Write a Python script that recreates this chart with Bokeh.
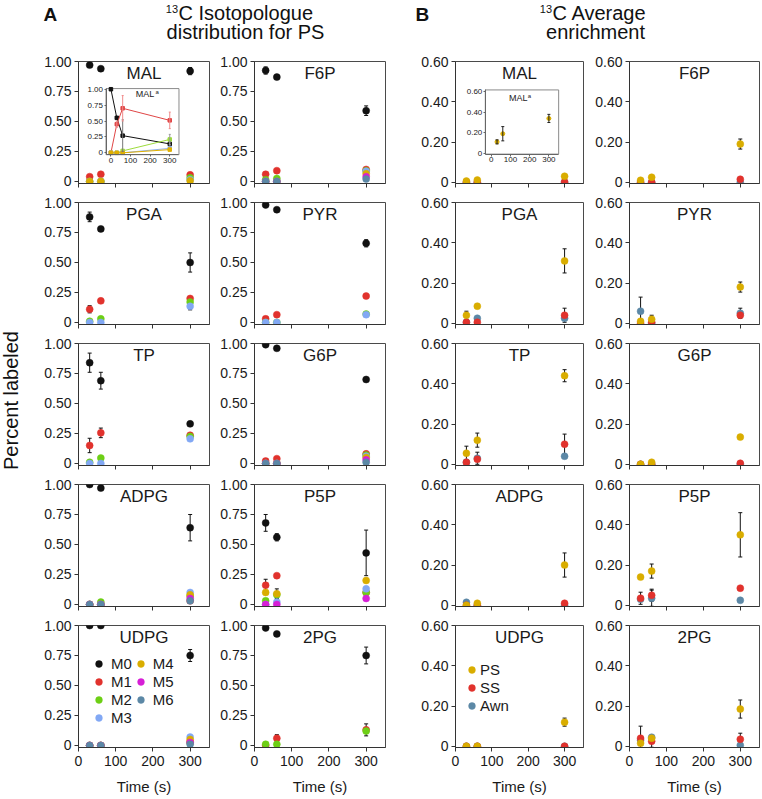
import math
from bokeh.plotting import figure
from bokeh.layouts import column, row
from bokeh.models import (ColumnDataSource, Range1d, LinearAxis, FixedTicker, Whisker, TeeHead,
                          Legend, LegendItem, CustomJSTickFormatter)
from bokeh.core.properties import value
from bokeh.embed import file_html
from bokeh.resources import INLINE

FONT = "Liberation Sans"

# ---------------- data ----------------
TIMES = [30, 60, 300]
ISO_NAMES = ["M0", "M1", "M2", "M3", "M4", "M5", "M6"]
ISO_COLORS = {"M0": "#111111", "M1": "#e1322d", "M2": "#6dcf15", "M3": "#82a8f4",
              "M4": "#d9ad00", "M5": "#d61fd6", "M6": "#5c88a6"}
ENR_NAMES = ["Awn", "SS", "PS"]          # drawing order (PS on top)
LEGEND_ENR = ["PS", "SS", "Awn"]
ENR_COLORS = {"PS": "#d9ad00", "SS": "#e1322d", "Awn": "#5c88a6"}

# A: 13C isotopologue distribution for PS (values at 30, 60, 300 s)
iso_MAL = {"M0": [0.97, 0.94, 0.92], "M1": [0.04, 0.06, 0.055], "M2": [0.0, 0.0, 0.03],
           "M3": [0.0, 0.0, 0.015], "M4": [0.0, 0.0, 0.005]}
iso_MAL_err = {"M0": [0.0, 0.0, 0.03]}
iso_F6P = {"M0": [0.925, 0.87, 0.59], "M1": [0.06, 0.09, 0.10], "M2": [0.015, 0.025, 0.09],
           "M3": [0.0, 0.0, 0.085], "M4": [0.0, 0.0, 0.065], "M5": [0.0, 0.0, 0.04], "M6": [0.0, 0.0, 0.02]}
iso_F6P_err = {"M0": [0.03, 0.0, 0.04]}
iso_PGA = {"M0": [0.88, 0.78, 0.50], "M1": [0.11, 0.18, 0.20], "M2": [0.01, 0.03, 0.17], "M3": [0.0, 0.0, 0.135]}
iso_PGA_err = {"M0": [0.04, 0.02, 0.08], "M1": [0.03, 0.0, 0.0], "M3": [0.0, 0.0, 0.03]}
iso_PYR = {"M0": [0.98, 0.94, 0.66], "M1": [0.03, 0.065, 0.22], "M2": [0.0, 0.0, 0.07], "M3": [0.0, 0.0, 0.065]}
iso_PYR_err = {"M0": [0.0, 0.0, 0.03]}
iso_TP = {"M0": [0.84, 0.69, 0.33], "M1": [0.15, 0.255, 0.235], "M2": [0.01, 0.045, 0.225], "M3": [0.0, 0.0, 0.205]}
iso_TP_err = {"M0": [0.08, 0.07, 0.0], "M1": [0.06, 0.04, 0.0]}
iso_G6P = {"M0": [0.99, 0.96, 0.70], "M1": [0.02, 0.04, 0.08], "M2": [0.0, 0.0, 0.07], "M3": [0.0, 0.0, 0.06],
           "M4": [0.0, 0.0, 0.05], "M5": [0.0, 0.0, 0.03], "M6": [0.0, 0.0, 0.01]}
iso_G6P_err = {}
iso_ADPG = {"M0": [1.0, 0.97, 0.64], "M1": [0.0, 0.0, 0.03], "M2": [0.0, 0.02, 0.07], "M3": [0.0, 0.0, 0.10],
            "M4": [0.0, 0.0, 0.08], "M5": [0.0, 0.0, 0.05], "M6": [0.0, 0.0, 0.03]}
iso_ADPG_err = {"M0": [0.0, 0.0, 0.11]}
iso_P5P = {"M0": [0.68, 0.56, 0.43], "M1": [0.16, 0.24, 0.10], "M2": [0.03, 0.08, 0.10], "M3": [0.0, 0.02, 0.13],
           "M4": [0.10, 0.09, 0.20], "M5": [0.0, 0.0, 0.05]}
iso_P5P_err = {"M0": [0.07, 0.03, 0.19], "M1": [0.05, 0.0, 0.0], "M4": [0.0, 0.04, 0.0]}
iso_UDPG = {"M0": [1.0, 1.0, 0.75], "M1": [0.0, 0.0, 0.03], "M2": [0.0, 0.0, 0.02], "M3": [0.0, 0.0, 0.07],
            "M4": [0.0, 0.0, 0.05], "M5": [0.0, 0.0, 0.025], "M6": [0.0, 0.0, 0.01]}
iso_UDPG_err = {"M0": [0.0, 0.0, 0.05]}
iso_2PG = {"M0": [0.98, 0.93, 0.75], "M1": [0.0, 0.06, 0.13], "M2": [0.01, 0.01, 0.12]}
iso_2PG_err = {"M0": [0.0, 0.0, 0.07], "M1": [0.0, 0.03, 0.05]}

# inset of MAL (A): 0, 30, 60, 300 s
INSET_TIMES = [0, 30, 60, 300]
iso_MALa = {"M0": [1.0, 0.55, 0.27, 0.14], "M1": [0.0, 0.45, 0.70, 0.51], "M2": [0.0, 0.0, 0.03, 0.21],
            "M3": [0.0, 0.0, 0.0, 0.07], "M4": [0.0, 0.0, 0.0, 0.05]}
iso_MALa_err = {"M0": [0.0, 0.0, 0.25, 0.03], "M1": [0.0, 0.05, 0.20, 0.13], "M2": [0.0, 0.0, 0.0, 0.08]}
INSET_COLORS = {"M0": "#111111", "M1": "#e04646", "M2": "#9ddc3c", "M3": "#8fb0f0", "M4": "#e0b000"}
INSET_ERR_COLORS = {"M0": "#777777", "M1": "#f08a8a", "M2": "#999999"}

# B: 13C average enrichment (values at 30, 60, 300 s)
enr_MAL = {"PS": [0.006, 0.011, 0.03], "SS": [0.0, 0.0, 0.002], "Awn": [0.0, 0.0, 0.0]}
enr_MAL_err = {}
enr_F6P = {"PS": [0.01, 0.025, 0.19], "SS": [0.0, 0.0, 0.015], "Awn": [0.0, 0.0, 0.0]}
enr_F6P_err = {"PS": [0.0, 0.0, 0.025]}
enr_PGA = {"PS": [0.04, 0.085, 0.31], "SS": [0.005, 0.005, 0.04], "Awn": [0.005, 0.025, 0.025]}
enr_PGA_err = {"PS": [0.02, 0.01, 0.06], "SS": [0.0, 0.0, 0.035]}
enr_PYR = {"PS": [0.01, 0.02, 0.18], "SS": [0.0, 0.005, 0.04], "Awn": [0.06, 0.0, 0.05]}
enr_PYR_err = {"PS": [0.0, 0.02, 0.025], "Awn": [0.07, 0.0, 0.025]}
enr_TP = {"PS": [0.055, 0.12, 0.44], "SS": [0.01, 0.025, 0.10], "Awn": [0.01, 0.03, 0.04]}
enr_TP_err = {"PS": [0.035, 0.035, 0.03], "SS": [0.0, 0.0, 0.05], "Awn": [0.0, 0.03, 0.0]}
enr_G6P = {"PS": [0.0, 0.01, 0.135], "SS": [0.0, 0.0, 0.005], "Awn": [0.0, 0.0, 0.0]}
enr_G6P_err = {}
enr_ADPG = {"PS": [0.0, 0.01, 0.20], "SS": [0.0, 0.0, 0.01], "Awn": [0.015, 0.0, 0.0]}
enr_ADPG_err = {"PS": [0.0, 0.0, 0.06]}
enr_P5P = {"PS": [0.14, 0.17, 0.35], "SS": [0.035, 0.05, 0.085], "Awn": [0.03, 0.035, 0.025]}
enr_P5P_err = {"PS": [0.0, 0.035, 0.11], "SS": [0.03, 0.03, 0.0], "Awn": [0.0, 0.04, 0.0]}
enr_UDPG = {"PS": [0.0, 0.0, 0.12], "SS": [0.0, 0.0, 0.0], "Awn": [0.0, 0.0, 0.0]}
enr_UDPG_err = {"PS": [0.0, 0.0, 0.02]}
enr_2PG = {"PS": [0.015, 0.04, 0.185], "SS": [0.04, 0.025, 0.035], "Awn": [0.03, 0.045, 0.005]}
enr_2PG_err = {"PS": [0.0, 0.0, 0.045], "SS": [0.06, 0.03, 0.03]}

# inset of MAL (B)
enr_MALa_times = [30, 60, 300]
enr_MALa_PS = [0.11, 0.19, 0.34]
enr_MALa_PS_err = [0.02, 0.07, 0.04]

ROWS = [("MAL", "F6P"), ("PGA", "PYR"), ("TP", "G6P"), ("ADPG", "P5P"), ("UDPG", "2PG")]
ISO = {"MAL": (iso_MAL, iso_MAL_err), "F6P": (iso_F6P, iso_F6P_err), "PGA": (iso_PGA, iso_PGA_err),
       "PYR": (iso_PYR, iso_PYR_err), "TP": (iso_TP, iso_TP_err), "G6P": (iso_G6P, iso_G6P_err),
       "ADPG": (iso_ADPG, iso_ADPG_err), "P5P": (iso_P5P, iso_P5P_err), "UDPG": (iso_UDPG, iso_UDPG_err),
       "2PG": (iso_2PG, iso_2PG_err)}
ENR = {"MAL": (enr_MAL, enr_MAL_err), "F6P": (enr_F6P, enr_F6P_err), "PGA": (enr_PGA, enr_PGA_err),
       "PYR": (enr_PYR, enr_PYR_err), "TP": (enr_TP, enr_TP_err), "G6P": (enr_G6P, enr_G6P_err),
       "ADPG": (enr_ADPG, enr_ADPG_err), "P5P": (enr_P5P, enr_P5P_err), "UDPG": (enr_UDPG, enr_UDPG_err),
       "2PG": (enr_2PG, enr_2PG_err)}

X_TICKS = [0, 100, 200, 300]
A_TICKS = [0, 0.25, 0.5, 0.75, 1.0]
B_TICKS = [0, 0.2, 0.4, 0.6]

# ---------------- layout constants ----------------
X_RANGE = (0, 352)
A_YRANGE = (-0.017, 1.0)
B_YRANGE = (-0.006, 0.6)
YLAB_W = 22
HEADER_H = 52
FRAME_H = 122
COLS = [  # (min_border_left, frame width, min_border_right)
    (56, 131, 1), (44, 131, 2), (68, 128, 2), (44, 130, 1)]
TOP_B = 9
BOT_B = 10
BOT_B_LAST = 50
TITLE_OFFSET_PX = 11.5

AXIS_COLOR = "#333333"
TEXT_COLOR = "#1a1a1a"


def tick_formatter():
    return CustomJSTickFormatter(code="return tick == 0 ? '0' : tick.toFixed(2);")


def add_errorbars(p, xs, ys, es, color="#111111", level="underlay", head=4, **rng):
    pts = [(x, y, e) for x, y, e in zip(xs, ys, es) if e > 0]
    if not pts:
        return
    src = ColumnDataSource(dict(base=[q[0] for q in pts],
                                upper=[q[1] + q[2] for q in pts],
                                lower=[q[1] - q[2] for q in pts]))
    w = Whisker(base="base", upper="upper", lower="lower", source=src, line_color=color, line_width=1,
                level=level,
                upper_head=TeeHead(size=head, line_color=color, line_width=1),
                lower_head=TeeHead(size=head, line_color=color, line_width=1), **rng)
    p.add_layout(w)


def base_figure(col, last, yr, ticks):
    left, fw, right = COLS[col]
    bottom = BOT_B_LAST if last else BOT_B
    p = figure(width=left + fw + right, height=TOP_B + FRAME_H + bottom,
               x_range=Range1d(*X_RANGE), y_range=Range1d(*yr),
               output_backend="svg", toolbar_location=None,
               min_border_left=left, min_border_right=right,
               min_border_top=TOP_B, min_border_bottom=bottom)
    p.outline_line_color = "#4a4a4a"
    p.outline_line_width = 1
    p.xgrid.visible = False
    p.ygrid.visible = False
    p.background_fill_color = "white"
    p.border_fill_color = "white"

    xa = p.xaxis[0]
    xa.ticker = FixedTicker(ticks=X_TICKS)
    xa.minor_tick_line_color = None
    xa.major_tick_in = 0
    xa.major_tick_out = 4
    xa.axis_line_color = AXIS_COLOR
    xa.major_tick_line_color = AXIS_COLOR
    xa.major_label_text_font = FONT
    if last:
        xa.major_label_text_font_size = "14px"
        xa.major_label_text_color = TEXT_COLOR
        xa.major_label_standoff = 4
        xa.axis_label = "Time (s)"
        xa.axis_label_text_font = FONT
        xa.axis_label_text_font_size = "15px"
        xa.axis_label_text_font_style = "normal"
        xa.axis_label_text_color = TEXT_COLOR
        xa.axis_label_standoff = 9
    else:
        # tick marks only; no tick labels on the upper rows
        xa.major_label_text_font_size = "1px"
        xa.major_label_text_color = None
        xa.major_label_standoff = 0

    ya = p.yaxis[0]
    ya.ticker = FixedTicker(ticks=ticks)
    ya.formatter = tick_formatter()
    ya.minor_tick_line_color = None
    ya.major_tick_in = 0
    ya.major_tick_out = 4
    ya.axis_line_color = AXIS_COLOR
    ya.major_tick_line_color = AXIS_COLOR
    ya.major_label_text_font = FONT
    ya.major_label_text_font_size = "14px"
    ya.major_label_text_color = TEXT_COLOR
    ya.major_label_standoff = 3
    return p


def panel_title(p, name, yr):
    ytitle = yr[1] - TITLE_OFFSET_PX * (yr[1] - yr[0]) / FRAME_H
    p.text(x=[(X_RANGE[0] + X_RANGE[1]) / 2], y=[ytitle], text=[name], text_align="center",
           text_baseline="middle", text_font=value(FONT), text_font_size="17px", text_color=TEXT_COLOR)


def inset_ranges(p, frac_x, frac_y, xr_in, yr_in):
    a, b = xr_in
    span = (b - a) / (frac_x[1] - frac_x[0])
    xs = a - frac_x[0] * span
    c, d = yr_in
    spany = (d - c) / (frac_y[1] - frac_y[0])
    ys = c - frac_y[0] * spany
    p.extra_x_ranges = {"inx": Range1d(xs, xs + span)}
    p.extra_y_ranges = {"iny": Range1d(ys, ys + spany)}


def inset_axes(p, xr_in, yr_in, yticks):
    a, b = xr_in
    c, d = yr_in
    p.quad(left=[a], right=[b], bottom=[c], top=[d], x_range_name="inx", y_range_name="iny",
           fill_color="white", line_color="#8a8a8a", line_width=1)
    common = dict(minor_tick_line_color=None, major_tick_in=0, major_tick_out=2,
                  axis_line_color="#666666", major_tick_line_color="#666666",
                  major_label_text_font=FONT, major_label_text_font_size="8px",
                  major_label_text_color="#222222", major_label_standoff=1)
    yax = LinearAxis(x_range_name="inx", y_range_name="iny", fixed_location=a, bounds=(c, d),
                     ticker=FixedTicker(ticks=yticks), formatter=tick_formatter(), **common)
    p.add_layout(yax, "left")
    xax = LinearAxis(x_range_name="inx", y_range_name="iny", fixed_location=c, bounds=(a, b),
                     ticker=FixedTicker(ticks=X_TICKS), **common)
    p.add_layout(xax, "below")


def inset_title(p, x, y, xsup, ysup):
    p.text(x=[x], y=[y], text=["MAL"], x_range_name="inx", y_range_name="iny", text_align="center",
           text_baseline="middle", text_font=value(FONT), text_font_size="9px", text_color="#222222")
    p.text(x=[xsup], y=[ysup], text=["a"], x_range_name="inx", y_range_name="iny", text_align="left",
           text_baseline="middle", text_font=value(FONT), text_font_size="6px", text_color="#222222")


def iso_panel(name, col, last):
    data, err = ISO[name]
    p = base_figure(col, last, A_YRANGE, A_TICKS)
    renderers = {}
    order = ISO_NAMES[1:] + ["M0"]
    for m in order:
        if m in data and m in err:
            add_errorbars(p, TIMES, data[m], err[m])
    for m in order:
        if m not in data:
            continue
        src = ColumnDataSource(dict(t=TIMES, v=data[m]))
        r = p.scatter(x="t", y="v", source=src, size=7, fill_color=ISO_COLORS[m],
                      line_color=ISO_COLORS[m], line_width=0.5)
        renderers[m] = r
    panel_title(p, name, A_YRANGE)
    if name == "MAL":
        xr_in = (-25, 347)
        yr_in = (-0.03, 1.01)
        inset_ranges(p, (0.21, 0.767), (0.236, 0.778), xr_in, yr_in)
        inset_axes(p, xr_in, yr_in, A_TICKS)
        for m in ["M0", "M1", "M2"]:
            add_errorbars(p, INSET_TIMES, iso_MALa[m], iso_MALa_err[m], color=INSET_ERR_COLORS[m],
                          level="glyph", head=2, x_range_name="inx", y_range_name="iny")
        for m in ["M0", "M1", "M2", "M3", "M4"]:
            p.line(INSET_TIMES, iso_MALa[m], line_color=INSET_COLORS[m], line_width=1,
                   x_range_name="inx", y_range_name="iny")
            p.scatter(INSET_TIMES, iso_MALa[m], marker="square", size=3.5, fill_color=INSET_COLORS[m],
                      line_color=INSET_COLORS[m], x_range_name="inx", y_range_name="iny")
        inset_title(p, 174, 0.92, 227, 0.955)
    if name == "UDPG":
        items = [LegendItem(label=m, renderers=[renderers[m]]) for m in ISO_NAMES]
        leg = Legend(items=items, location=(12, 21), orientation="vertical", nrows=4,
                     glyph_width=17, glyph_height=17, label_standoff=4, label_width=20, label_height=18,
                     spacing=0, padding=0, margin=0, border_line_color=None, background_fill_alpha=0,
                     label_text_font=FONT, label_text_font_size="15px", label_text_color=TEXT_COLOR)
        p.add_layout(leg)
    return p


def enr_panel(name, col, last):
    data, err = ENR[name]
    p = base_figure(col, last, B_YRANGE, B_TICKS)
    renderers = {}
    for s in ENR_NAMES:
        if s in err:
            add_errorbars(p, TIMES, data[s], err[s])
    for s in ENR_NAMES:
        src = ColumnDataSource(dict(t=TIMES, v=data[s]))
        r = p.scatter(x="t", y="v", source=src, size=7, fill_color=ENR_COLORS[s],
                      line_color=ENR_COLORS[s], line_width=0.5)
        renderers[s] = r
    panel_title(p, name, B_YRANGE)
    if name == "MAL":
        xr_in = (-31, 351)
        yr_in = (-0.01, 0.62)
        inset_ranges(p, (0.233, 0.806), (0.241, 0.767), xr_in, yr_in)
        inset_axes(p, xr_in, yr_in, B_TICKS)
        add_errorbars(p, enr_MALa_times, enr_MALa_PS, enr_MALa_PS_err, color="#222222",
                      level="glyph", head=3, x_range_name="inx", y_range_name="iny")
        p.scatter(enr_MALa_times, enr_MALa_PS, size=4, fill_color=ENR_COLORS["PS"],
                  line_color=ENR_COLORS["PS"], x_range_name="inx", y_range_name="iny")
        inset_title(p, 140, 0.545, 190, 0.565)
    if name == "UDPG":
        items = [LegendItem(label=s, renderers=[renderers[s]]) for s in LEGEND_ENR]
        leg = Legend(items=items, location=(8, 33), orientation="vertical",
                     glyph_width=17, glyph_height=17, label_standoff=0, label_height=18,
                     spacing=0, padding=0, margin=0, border_line_color=None, background_fill_alpha=0,
                     label_text_font=FONT, label_text_font_size="15px", label_text_color=TEXT_COLOR)
        p.add_layout(leg)
    return p


# ---------------- header ----------------
total_w = YLAB_W + sum(l + f + r for l, f, r in COLS)
header = figure(width=total_w, height=HEADER_H, x_range=Range1d(0, total_w), y_range=Range1d(0, HEADER_H),
                output_backend="svg", toolbar_location=None, min_border=0)
header.axis.visible = False
header.grid.visible = False
header.outline_line_color = None


def htext(x, y, s, size, align="left", style="normal"):
    header.text(x=[x], y=[y], text=[s], text_align=align, text_baseline="middle", text_font=value(FONT),
                text_font_size=size, text_font_style=style, text_color="#111111")


htext(43, 38.5, "A", "19px", style="bold")
htext(415, 38.5, "B", "19px", style="bold")
htext(177.5, 44, "13", "11px", align="right")
htext(178, 40, "C Isotopologue", "20px")
htext(245, 21, "distribution for PS", "20px", align="center")
htext(551.5, 44, "13", "11px", align="right")
htext(552, 40, "C Average", "20px")
htext(595, 21, "enrichment", "20px", align="center")

# ---------------- grid ----------------
grid_rows = []
for ri, (left_name, right_name) in enumerate(ROWS):
    last = ri == len(ROWS) - 1
    figs = [iso_panel(left_name, 0, last), iso_panel(right_name, 1, last),
            enr_panel(left_name, 2, last), enr_panel(right_name, 3, last)]
    grid_rows.append(row(*figs))
grid = column(*grid_rows)

rows_h = (TOP_B + FRAME_H + BOT_B) * (len(ROWS) - 1) + (TOP_B + FRAME_H + BOT_B_LAST)
ylab = figure(width=YLAB_W, height=rows_h, x_range=Range1d(0, YLAB_W), y_range=Range1d(0, rows_h),
              output_backend="svg", toolbar_location=None, min_border=0)
ylab.axis.visible = False
ylab.grid.visible = False
ylab.outline_line_color = None
ylab.text(x=[10], y=[397], text=["Percent labeled"], angle=math.pi / 2, text_align="center",
          text_baseline="middle", text_font=value(FONT), text_font_size="20px", text_color="#111111")

layout = column(header, row(ylab, grid))

with open("out.html", "w") as f:
    f.write(file_html(layout, INLINE))
